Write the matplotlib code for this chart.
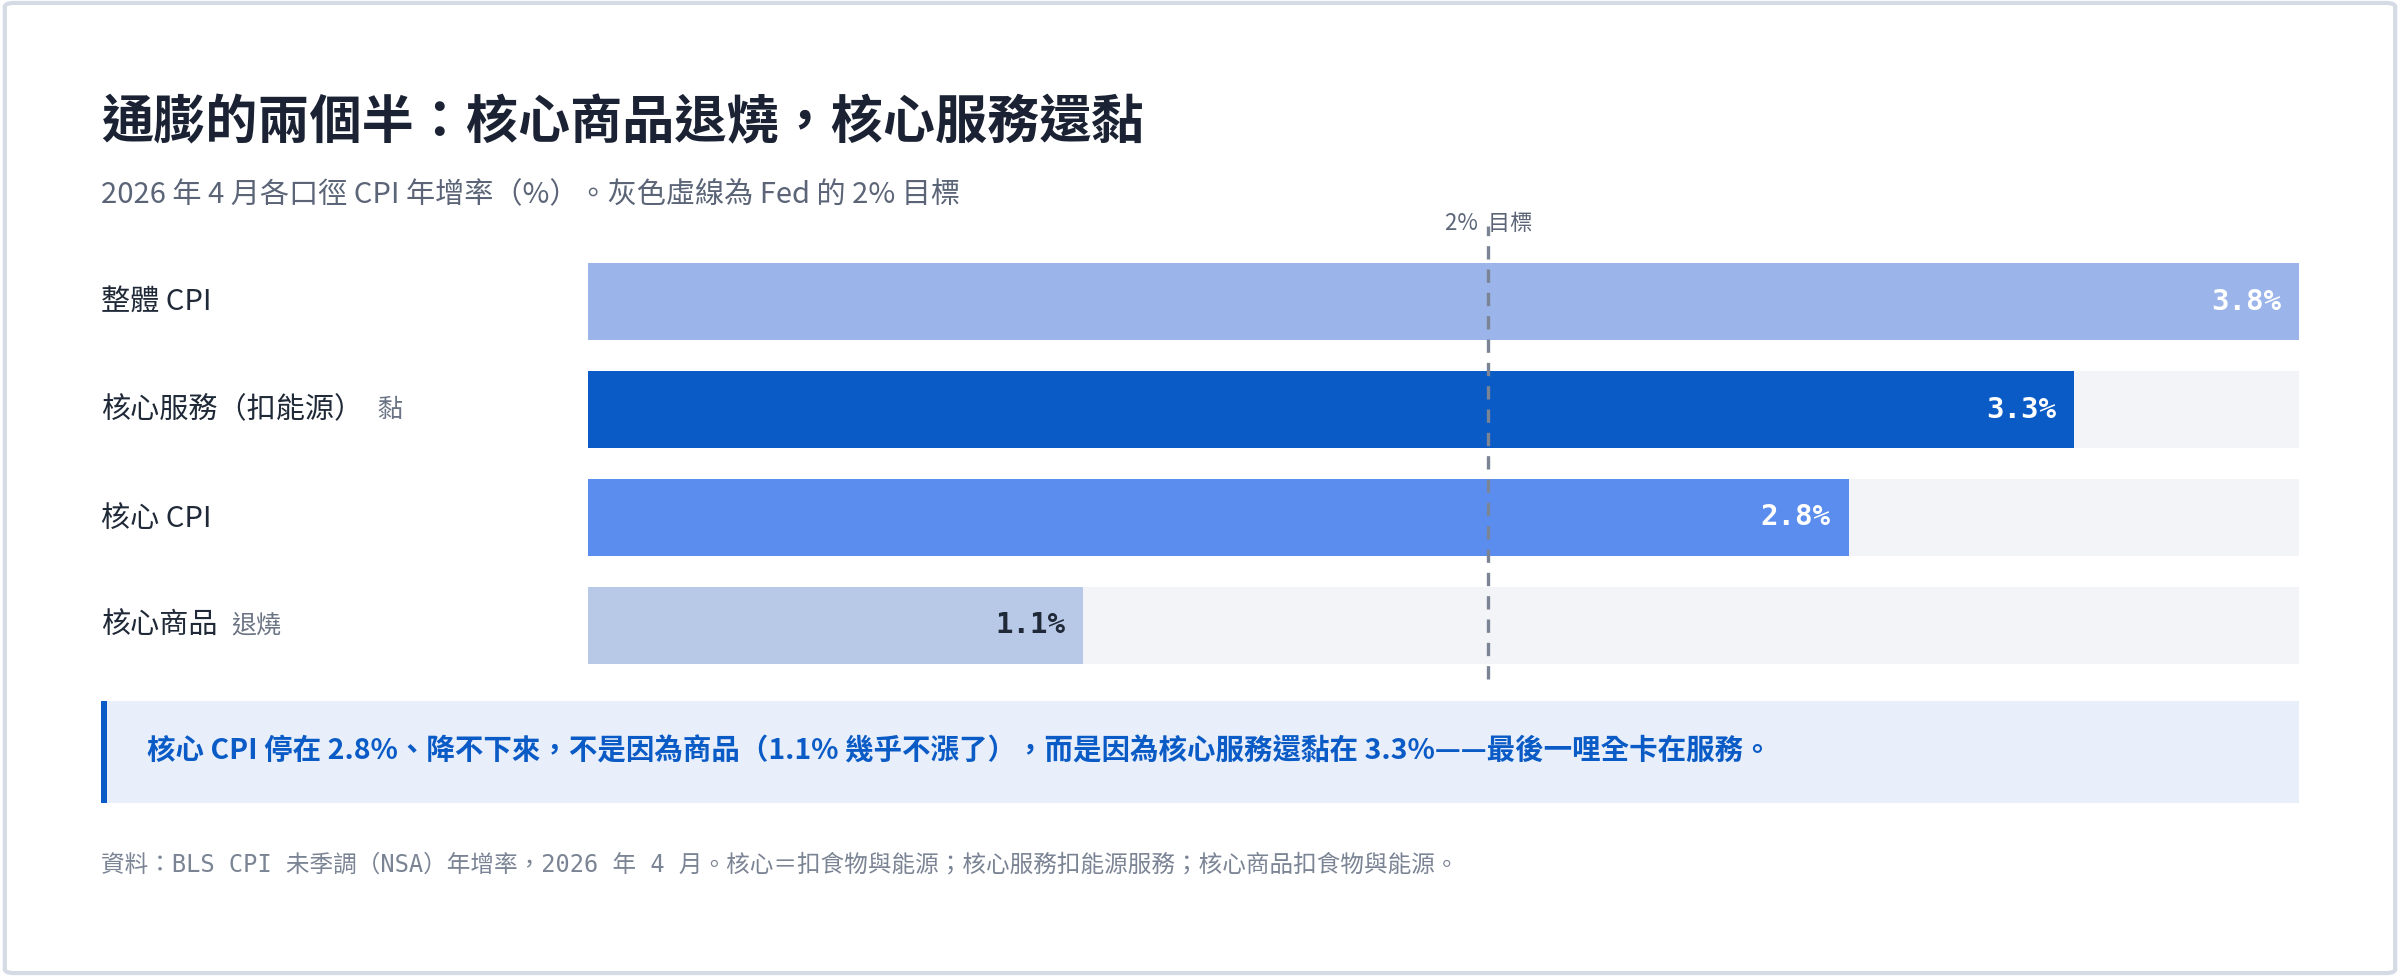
import matplotlib
matplotlib.use("Agg")
import matplotlib.pyplot as plt
from matplotlib.patches import Rectangle, FancyBboxPatch

CJK = ['Noto Sans CJK TC', 'DejaVu Sans']
MONO = ['DejaVu Sans Mono', 'Noto Sans CJK TC']
plt.rcParams['font.family'] = CJK

categories = ["整體 CPI", "核心服務（扣能源）", "核心 CPI", "核心商品"]
tags = ["", "黏", "", "退燒"]
values = [3.8, 3.3, 2.8, 1.1]
value_labels = ["3.8%", "3.3%", "2.8%", "1.1%"]
colors = ["#9bb5ea", "#0b5bc6", "#5b8def", "#b8c9e8"]
label_colors = ["white", "white", "white", "#1f2937"]
target = 2.0
xmax = 3.8

W, H = 1568, 638
def fx(x): return x / W
def fy(y): return 1 - y / H

fig = plt.figure(figsize=(24, 9.76), dpi=100)
fig.patches.append(FancyBboxPatch((0.002, 0.003), 0.996, 0.994, boxstyle="round,pad=0,rounding_size=0.004",
                                  transform=fig.transFigure, fill=False, edgecolor="#d5dbe5", linewidth=3))

fig.text(fx(66), fy(80), "通膨的兩個半：核心商品退燒，核心服務還黏", fontsize=37.5, fontweight="bold",
         color="#1a2233", va="center")
fig.text(fx(66), fy(127), "2026 年 4 月各口徑 CPI 年增率（%）。灰色虛線為 Fed 的 2% 目標", fontsize=21,
         color="#5b6577", va="center")

ax = fig.add_axes([fx(384), fy(444), fx(1502) - fx(384), fy(162) - fy(444)])
ax.set_xlim(0, xmax)
ax.set_ylim(3.5, -0.5)
ax.axis("off")
ypos = list(range(len(categories)))
ax.barh(ypos, [xmax] * len(ypos), height=0.71, color="#f3f4f8", zorder=1)
ax.barh(ypos, values, height=0.71, color=colors, zorder=2)
ax.axvline(target, ymin=0, ymax=1.05, color="#7b8494", linestyle=(0, (4, 3)), linewidth=2.4, zorder=3, clip_on=False)
ax.text(target, -0.62, "2%  目標", ha="center", va="bottom", fontsize=16, color="#5b6577")
for y, v, lab, c in zip(ypos, values, value_labels, label_colors):
    ax.text(v - 0.04, y, lab, ha="right", va="center", fontsize=21, fontweight="bold", color=c,
            family=MONO, zorder=4)

row_y = [197, 268, 339, 409]
for i, (cat, tag) in enumerate(zip(categories, tags)):
    t = fig.text(fx(66), fy(row_y[i]), cat, fontsize=21, fontweight="medium", color="#1f2937", va="center")
    if tag:
        ax.annotate(tag, xy=(1, 0.5), xycoords=t, xytext=(10, 0), textcoords="offset points",
                    fontsize=18, color="#6b7485", va="center", ha="left", annotation_clip=False)

fig.patches.append(Rectangle((fx(66), fy(525)), fx(1502) - fx(66), fy(458) - fy(525),
                             transform=fig.transFigure, facecolor="#e8effa", edgecolor="none"))
fig.patches.append(Rectangle((fx(66), fy(525)), fx(4), fy(458) - fy(525),
                             transform=fig.transFigure, facecolor="#0b5bc6", edgecolor="none"))
fig.text(fx(96), fy(491), "核心 CPI 停在 2.8%、降不下來，不是因為商品（1.1% 幾乎不漲了），而是因為核心服務還黏在 3.3%——最後一哩全卡在服務。",
         fontsize=20.5, fontweight="bold", color="#0b5bc6", va="center")

fig.text(fx(66), fy(565), "資料：BLS CPI 未季調（NSA）年增率，2026 年 4 月。核心＝扣食物與能源；核心服務扣能源服務；核心商品扣食物與能源。",
         fontsize=17, color="#7b8494", va="center", family=MONO)

fig.savefig("out.png", dpi=100, facecolor="white")
